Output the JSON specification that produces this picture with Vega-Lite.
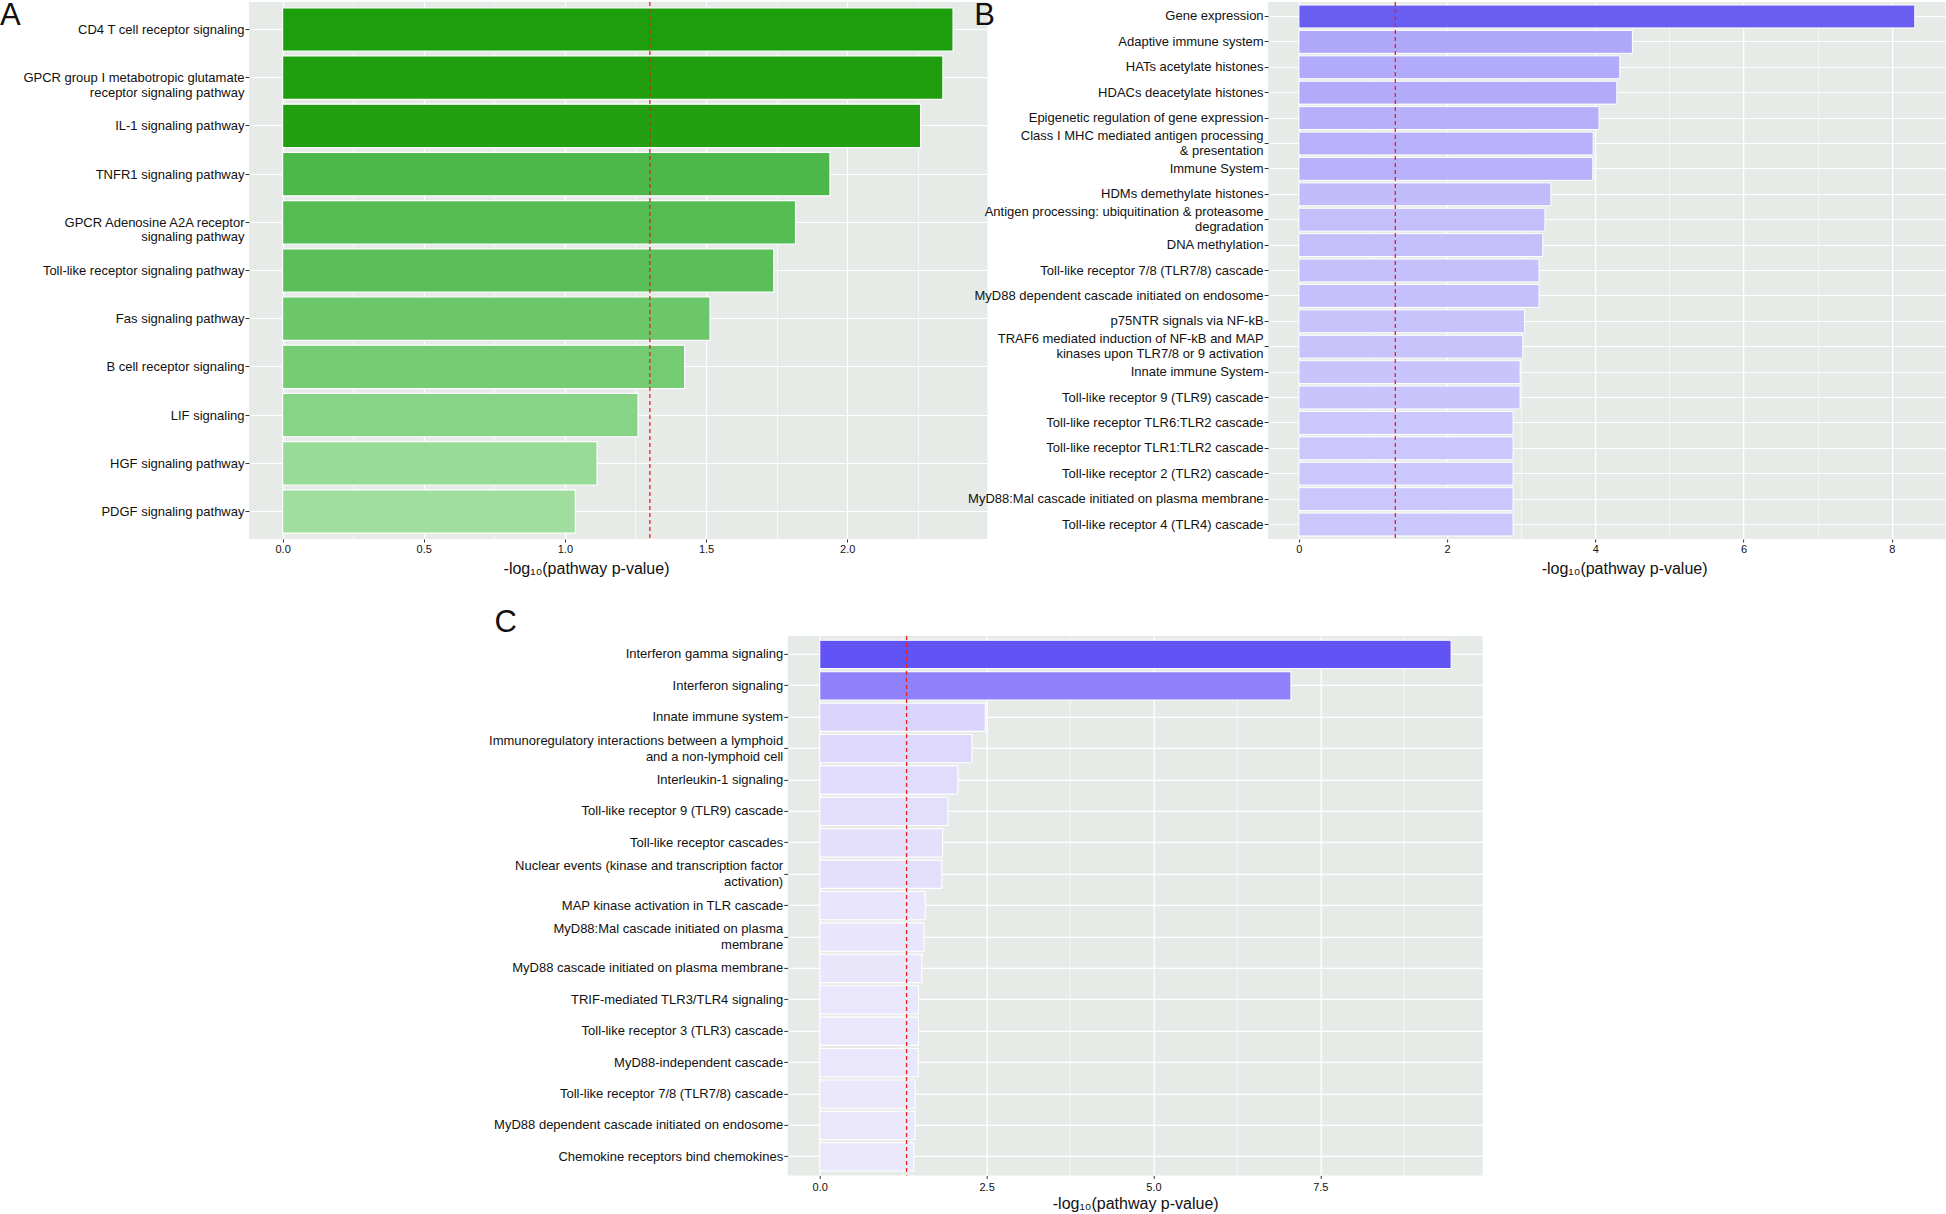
{
  "$schema": "https://vega.github.io/schema/vega-lite/v6.json",
  "padding": 0,
  "background": "white",
  "datasets": {
    "a": [
      {"pathway": "CD4 T cell receptor signaling", "value": 2.375},
      {"pathway": "GPCR group I metabotropic glutamate\nreceptor signaling pathway", "value": 2.339},
      {"pathway": "IL-1 signaling pathway", "value": 2.26},
      {"pathway": "TNFR1 signaling pathway", "value": 1.939},
      {"pathway": "GPCR Adenosine A2A receptor\nsignaling pathway", "value": 1.817},
      {"pathway": "Toll-like receptor signaling pathway", "value": 1.74},
      {"pathway": "Fas signaling pathway", "value": 1.514},
      {"pathway": "B cell receptor signaling", "value": 1.424},
      {"pathway": "LIF signaling", "value": 1.259},
      {"pathway": "HGF signaling pathway", "value": 1.114},
      {"pathway": "PDGF signaling pathway", "value": 1.037}
    ],
    "b": [
      {"pathway": "Gene expression", "value": 8.31},
      {"pathway": "Adaptive immune system", "value": 4.5},
      {"pathway": "HATs acetylate histones", "value": 4.33},
      {"pathway": "HDACs deacetylate histones", "value": 4.29},
      {"pathway": "Epigenetic regulation of gene expression", "value": 4.05},
      {"pathway": "Class I MHC mediated antigen processing\n& presentation", "value": 3.97},
      {"pathway": "Immune System", "value": 3.965},
      {"pathway": "HDMs demethylate histones", "value": 3.4},
      {"pathway": "Antigen processing: ubiquitination & proteasome\ndegradation", "value": 3.32},
      {"pathway": "DNA methylation", "value": 3.29},
      {"pathway": "Toll-like receptor 7/8 (TLR7/8) cascade", "value": 3.24},
      {"pathway": "MyD88 dependent cascade initiated on endosome", "value": 3.24},
      {"pathway": "p75NTR signals via NF-kB", "value": 3.045},
      {"pathway": "TRAF6 mediated induction of NF-kB and MAP\nkinases upon TLR7/8 or 9 activation", "value": 3.02},
      {"pathway": "Innate immune System", "value": 2.985},
      {"pathway": "Toll-like receptor 9 (TLR9) cascade", "value": 2.985},
      {"pathway": "Toll-like receptor TLR6:TLR2 cascade", "value": 2.89},
      {"pathway": "Toll-like receptor TLR1:TLR2 cascade", "value": 2.89},
      {"pathway": "Toll-like receptor 2 (TLR2) cascade", "value": 2.89},
      {"pathway": "MyD88:Mal cascade initiated on plasma membrane", "value": 2.89},
      {"pathway": "Toll-like receptor 4 (TLR4) cascade", "value": 2.89}
    ],
    "c": [
      {"pathway": "Interferon gamma signaling", "value": 9.46},
      {"pathway": "Interferon signaling", "value": 7.06},
      {"pathway": "Innate immune system", "value": 2.48},
      {"pathway": "Immunoregulatory interactions between a lymphoid\nand a non-lymphoid cell", "value": 2.28},
      {"pathway": "Interleukin-1 signaling", "value": 2.07},
      {"pathway": "Toll-like receptor 9 (TLR9) cascade", "value": 1.92},
      {"pathway": "Toll-like receptor cascades", "value": 1.84},
      {"pathway": "Nuclear events (kinase and transcription factor\nactivation)", "value": 1.83},
      {"pathway": "MAP kinase activation in TLR cascade", "value": 1.58},
      {"pathway": "MyD88:Mal cascade initiated on plasma\nmembrane", "value": 1.56},
      {"pathway": "MyD88 cascade initiated on plasma membrane", "value": 1.53},
      {"pathway": "TRIF-mediated TLR3/TLR4 signaling", "value": 1.48},
      {"pathway": "Toll-like receptor 3 (TLR3) cascade", "value": 1.48},
      {"pathway": "MyD88-independent cascade", "value": 1.475},
      {"pathway": "Toll-like receptor 7/8 (TLR7/8) cascade", "value": 1.43},
      {"pathway": "MyD88 dependent cascade initiated on endosome", "value": 1.43},
      {"pathway": "Chemokine receptors bind chemokines", "value": 1.41}
    ],
    "thr": [{"threshold": 1.30103}],
    "none": []
  },
  "resolve": {"scale": {"color": "independent"}},
  "vconcat": [
    {
      "spacing": -29.9,
      "resolve": {"scale": {"color": "independent"}},
      "hconcat": [
        {
          "width": 738.5,
          "height": 537,
          "title": {"text": "A", "offset": -30.7, "dx": 0},
          "layer": [
            {
              "data": {"name": "a"},
              "mark": {"type": "bar", "stroke": "white", "strokeWidth": 1.2},
              "encoding": {
                "y": {"field": "pathway", "type": "nominal", "sort": null, "title": null,
                  "scale": {"paddingInner": 0.1, "paddingOuter": 0.12},
                  "axis": {"labelFontSize": 13, "labelExpr": "split(datum.label, '\\n')", "labelBaseline": "alphabetic", "labelOffset": 4.5, "labelLineHeight": 14.5, "tickSize": 4, "labelPadding": 1, "minExtent": 249, "maxExtent": 249, "labelLimit": 400, "grid": true, "gridWidth": 1.2, "bandPosition": 0.5}},
                "x": {"field": "value", "type": "quantitative", "title": "-log₁₀(pathway p-value)",
                  "scale": {"domain": [-0.119, 2.497], "nice": false, "zero": false},
                  "axis": {"values": [0, 0.5, 1, 1.5, 2], "format": ".1f", "labelFontSize": 11, "tickSize": 3, "labelPadding": 1, "titleFontSize": 16, "titlePadding": 6, "titleX": 337, "grid": true, "gridWidth": 1.3}},
                "color": {"field": "value", "type": "quantitative", "legend": null,
                  "scale": {"domain": [1.037, 1.5, 1.94, 2.26, 2.38], "range": ["#a0dea0", "#6cc86a", "#4cb84a", "#22a012", "#1d9e0c"]}}
              }
            },
            {
              "data": {"name": "thr"},
              "mark": {"type": "rule", "color": "#e8211e", "strokeDash": [4, 3], "strokeWidth": 1.3},
              "encoding": {
                "x": {"field": "threshold", "type": "quantitative", "title": null,
                  "scale": {"domain": [-0.119, 2.497], "nice": false, "zero": false},
                  "axis": {"values": [0.25, 0.75, 1.25, 1.75, 2.25], "labels": false, "ticks": false, "domain": false, "grid": true, "gridWidth": 0.6, "title": null}}
              }
            }
          ],
          "resolve": {"axis": {"x": "independent"}}
        },
        {
          "width": 677.5,
          "height": 537,
          "title": {"text": "B", "offset": -30.7, "dx": 16.2},
          "layer": [
            {
              "data": {"name": "b"},
              "mark": {"type": "bar", "stroke": "white", "strokeWidth": 1},
              "encoding": {
                "y": {"field": "pathway", "type": "nominal", "sort": null, "title": null,
                  "scale": {"paddingInner": 0.1, "paddingOuter": 0.12},
                  "axis": {"labelFontSize": 13, "labelExpr": "split(datum.label, '\\n')", "labelLineHeight": 15.5,
                    "labelOffset": {"condition": {"test": "indexof(datum.label, '\\n') >= 0", "value": -7.75}, "value": 0},
                    "tickSize": 4, "labelPadding": 1, "minExtent": 310, "maxExtent": 310, "labelLimit": 400, "grid": true, "gridWidth": 1.2, "bandPosition": 0.5}},
                "x": {"field": "value", "type": "quantitative", "title": "-log₁₀(pathway p-value)",
                  "scale": {"domain": [-0.4155, 8.7255], "nice": false, "zero": false},
                  "axis": {"values": [0, 2, 4, 6, 8], "format": "d", "labelFontSize": 11, "tickSize": 3, "labelPadding": 1, "titleFontSize": 16, "titlePadding": 6, "titleX": 356, "grid": true, "gridWidth": 1.3}},
                "color": {"field": "value", "type": "quantitative", "legend": null,
                  "scale": {"domain": [2.89, 8.31], "range": ["#cbc6fb", "#6a5df2"]}}
              }
            },
            {
              "data": {"name": "thr"},
              "mark": {"type": "rule", "color": "#e8211e", "strokeDash": [4, 3], "strokeWidth": 1.3},
              "encoding": {
                "x": {"field": "threshold", "type": "quantitative", "title": null,
                  "scale": {"domain": [-0.4155, 8.7255], "nice": false, "zero": false},
                  "axis": {"values": [1, 3, 5, 7], "labels": false, "ticks": false, "domain": false, "grid": true, "gridWidth": 0.6, "title": null}}
              }
            }
          ],
          "resolve": {"axis": {"x": "independent"}}
        }
      ]
    },
    {
      "spacing": 0.7,
      "resolve": {"scale": {"color": "independent"}},
      "hconcat": [
        {
          "width": 228,
          "height": 1,
          "view": {"fill": null, "stroke": null},
          "data": {"name": "none"},
          "mark": {"type": "point", "opacity": 0},
          "encoding": {}
        },
        {
          "width": 695,
          "height": 539.5,
          "title": {"text": "C", "offset": -3.8, "dx": 16.8},
          "layer": [
            {
              "data": {"name": "c"},
              "mark": {"type": "bar", "stroke": "white", "strokeWidth": 1.1},
              "encoding": {
                "y": {"field": "pathway", "type": "nominal", "sort": null, "title": null,
                  "scale": {"paddingInner": 0.1, "paddingOuter": 0.14},
                  "axis": {"labelFontSize": 13, "labelExpr": "split(datum.label, '\\n')", "labelLineHeight": 16,
                    "labelOffset": {"condition": {"test": "indexof(datum.label, '\\n') >= 0", "value": -8}, "value": 0},
                    "tickSize": 4, "labelPadding": 1, "minExtent": 310, "maxExtent": 310, "labelLimit": 500, "grid": true, "gridWidth": 1.2, "bandPosition": 0.5}},
                "x": {"field": "value", "type": "quantitative", "title": "-log₁₀(pathway p-value)",
                  "scale": {"domain": [-0.48, 9.933], "nice": false, "zero": false},
                  "axis": {"values": [0, 2.5, 5, 7.5], "format": ".1f", "labelFontSize": 11, "tickSize": 3, "labelPadding": 3, "titleFontSize": 16, "titlePadding": 3, "grid": true, "gridWidth": 1.3}},
                "color": {"field": "value", "type": "quantitative", "legend": null,
                  "scale": {"domain": [1.41, 9.46], "range": ["#ebe8fc", "#6254f4"]}}
              }
            },
            {
              "data": {"name": "thr"},
              "mark": {"type": "rule", "color": "#e8211e", "strokeDash": [4, 3], "strokeWidth": 1.3},
              "encoding": {
                "x": {"field": "threshold", "type": "quantitative", "title": null,
                  "scale": {"domain": [-0.48, 9.933], "nice": false, "zero": false},
                  "axis": {"values": [1.25, 3.75, 6.25, 8.75], "labels": false, "ticks": false, "domain": false, "grid": true, "gridWidth": 0.6, "title": null}}
              }
            }
          ],
          "resolve": {"axis": {"x": "independent"}}
        }
      ]
    }
  ],
  "spacing": 30.9,
  "config": {
    "view": {"fill": "#e7ebe8", "stroke": null},
    "axis": {"labelFont": "Liberation Sans", "titleFont": "Liberation Sans", "labelColor": "#111111", "titleColor": "#111111", "tickColor": "#333333", "tickWidth": 1, "domain": false, "gridColor": "#ffffff", "titleFontWeight": "normal", "labelFontWeight": "normal"},
    "title": {"font": "Liberation Sans", "fontSize": 31, "fontWeight": "normal", "anchor": "start", "frame": "bounds", "baseline": "top", "color": "#111111"}
  }
}
